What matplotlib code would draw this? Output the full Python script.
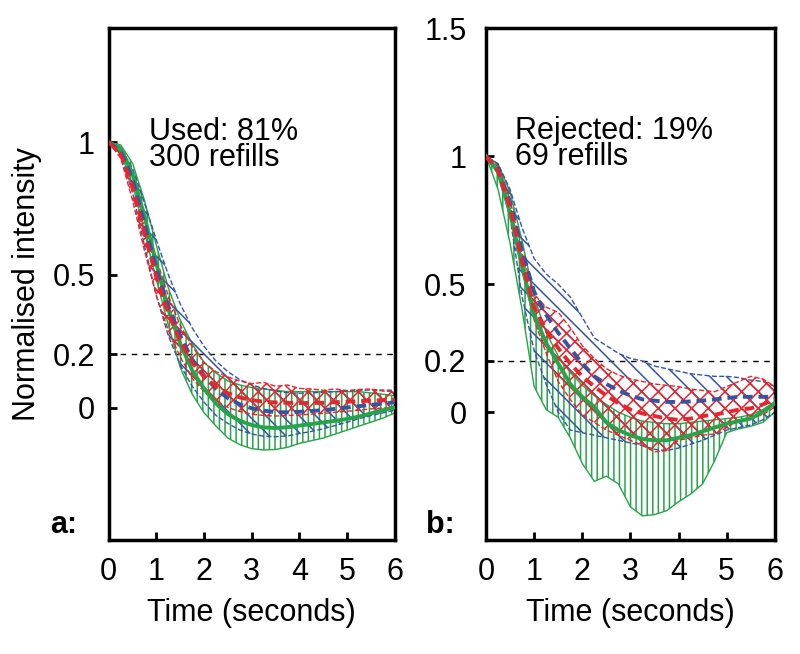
import matplotlib
matplotlib.use('Agg')
import matplotlib.pyplot as plt
import numpy as np

plt.rcParams['font.family'] = ['Liberation Sans', 'DejaVu Sans']
plt.rcParams['hatch.linewidth'] = 1.1

# time grid (seconds)
t = [0, 0.25, 0.5, 0.75, 1.0, 1.25, 1.5, 1.75, 2.0, 2.25, 2.5, 2.75, 3.0,
     3.25, 3.5, 3.75, 4.0, 4.25, 4.5, 4.75, 5.0, 5.25, 5.5, 5.75, 6.0]

# panel a: used refills
a_green_hi = [1.0, 0.99, 0.92, 0.78, 0.61, 0.45, 0.33, 0.24, 0.17, 0.13, 0.10, 0.085, 0.075,
              0.07, 0.065, 0.06, 0.06, 0.06, 0.06, 0.06, 0.06, 0.06, 0.055, 0.05, 0.045]
a_green_lo = [1.0, 0.96, 0.84, 0.66, 0.48, 0.31, 0.15, 0.05, -0.02, -0.07, -0.115, -0.14, -0.155,
              -0.16, -0.158, -0.15, -0.135, -0.125, -0.115, -0.10, -0.085, -0.07, -0.055, -0.04, -0.02]
a_green_mid = [1.0, 0.975, 0.88, 0.72, 0.54, 0.37, 0.24, 0.14, 0.07, 0.015, -0.025, -0.05, -0.066,
               -0.075, -0.077, -0.074, -0.068, -0.062, -0.056, -0.05, -0.043, -0.034, -0.022, -0.01, 0.0]
a_blue_hi = [1.0, 0.98, 0.90, 0.77, 0.63, 0.50, 0.39, 0.30, 0.23, 0.175, 0.135, 0.105, 0.085,
             0.072, 0.062, 0.056, 0.054, 0.055, 0.058, 0.06, 0.062, 0.065, 0.066, 0.066, 0.065]
a_blue_lo = [1.0, 0.95, 0.81, 0.61, 0.42, 0.27, 0.16, 0.08, 0.02, -0.03, -0.06, -0.085, -0.10,
             -0.108, -0.11, -0.107, -0.098, -0.09, -0.08, -0.068, -0.055, -0.042, -0.03, -0.02, -0.01]
a_blue_mid = [1.0, 0.965, 0.86, 0.69, 0.52, 0.38, 0.27, 0.18, 0.12, 0.07, 0.035, 0.012, -0.003,
              -0.012, -0.017, -0.018, -0.016, -0.013, -0.01, -0.005, 0.0, 0.005, 0.01, 0.015, 0.02]
a_red_hi = [1.0, 0.97, 0.88, 0.72, 0.56, 0.42, 0.31, 0.23, 0.17, 0.135, 0.115, 0.10, 0.09,
            0.095, 0.08, 0.085, 0.072, 0.07, 0.065, 0.07, 0.064, 0.068, 0.07, 0.062, 0.06]
a_red_lo = [1.0, 0.94, 0.78, 0.59, 0.42, 0.29, 0.19, 0.11, 0.06, 0.025, 0.0, -0.015, -0.025,
            -0.03, -0.032, -0.03, -0.028, -0.025, -0.022, -0.018, -0.014, -0.01, -0.005, -0.002, 0.0]
a_red_mid = [1.0, 0.955, 0.83, 0.655, 0.49, 0.355, 0.25, 0.17, 0.115, 0.078, 0.054, 0.038, 0.028,
             0.022, 0.019, 0.018, 0.017, 0.017, 0.018, 0.02, 0.022, 0.024, 0.026, 0.028, 0.03]

# panel b: rejected refills
b_green_hi = [1.0, 0.97, 0.86, 0.67, 0.45, 0.31, 0.22, 0.155, 0.105, 0.065, 0.03, 0.0, -0.02,
              -0.035, -0.04, -0.045, -0.045, -0.04, -0.035, -0.03, -0.025, -0.02, -0.01, 0.01, 0.04]
b_green_lo = [1.0, 0.87, 0.66, 0.40, 0.10, 0.01, -0.02, -0.10, -0.20, -0.27, -0.25, -0.28, -0.37,
              -0.405, -0.40, -0.385, -0.35, -0.32, -0.28, -0.19, -0.08, -0.065, -0.055, -0.04, 0.0]
b_green_mid = [1.0, 0.94, 0.78, 0.57, 0.38, 0.27, 0.19, 0.11, 0.06, 0.02, -0.04, -0.07, -0.09,
               -0.105, -0.11, -0.11, -0.10, -0.09, -0.075, -0.06, -0.045, -0.035, -0.025, 0.0, 0.035]
b_blue_hi = [1.0, 0.97, 0.87, 0.72, 0.60, 0.54, 0.50, 0.45, 0.37, 0.29, 0.26, 0.23, 0.21,
             0.20, 0.18, 0.17, 0.16, 0.15, 0.145, 0.14, 0.14, 0.135, 0.125, 0.12, 0.10]
b_blue_lo = [1.0, 0.93, 0.76, 0.45, 0.24, 0.11, 0.0, -0.07, -0.08, -0.09, -0.10, -0.11, -0.12,
             -0.13, -0.145, -0.15, -0.14, -0.125, -0.11, -0.09, -0.07, -0.06, -0.05, -0.03, 0.0]
b_blue_mid = [1.0, 0.95, 0.82, 0.63, 0.47, 0.38, 0.31, 0.25, 0.19, 0.14, 0.11, 0.085, 0.065,
              0.05, 0.045, 0.04, 0.04, 0.042, 0.045, 0.05, 0.055, 0.06, 0.06, 0.06, 0.06]
b_red_hi = [1.0, 0.96, 0.83, 0.62, 0.46, 0.41, 0.39, 0.33, 0.26, 0.21, 0.17, 0.145, 0.13,
            0.12, 0.11, 0.105, 0.10, 0.09, 0.085, 0.08, 0.10, 0.12, 0.14, 0.13, 0.10]
b_red_lo = [1.0, 0.93, 0.77, 0.55, 0.36, 0.23, 0.12, 0.05, -0.01, -0.04, -0.07, -0.09, -0.11,
            -0.13, -0.155, -0.15, -0.11, -0.10, -0.09, -0.085, -0.06, -0.03, -0.02, -0.01, 0.02]
b_red_mid = [1.0, 0.945, 0.80, 0.59, 0.41, 0.32, 0.25, 0.19, 0.14, 0.10, 0.065, 0.035, 0.01,
             -0.005, -0.015, -0.025, -0.03, -0.025, -0.015, -0.01, 0.0, 0.01, 0.015, 0.03, 0.05]

green = '#27a34a'
blue = '#3654a6'
red = '#e6262c'
fs = 22

fig = plt.figure(figsize=(8, 6.54), dpi=100)
ax_a = fig.add_axes([0.136, 0.174, 0.3575, 0.783])
ax_b = fig.add_axes([0.6075, 0.174, 0.361, 0.783])


def draw_panel(ax, bands, means, ylim, yticks, note, tag, ypad):
    for (lo, hi), col, hatch, ls in zip(bands, [green, blue, red], ['|||', '\\\\', 'xx'], ['-', '--', '--']):
        ax.fill_between(t, lo, hi, facecolor='none', edgecolor=col, hatch=hatch,
                        linewidth=1.0, linestyle=ls, zorder=2)
    ax.plot(t, means[0], color=green, lw=2.8, zorder=4)
    ax.plot(t, means[1], color=blue, lw=2.8, dashes=(2.5, 1.5), zorder=5)
    ax.plot(t, means[2], color=red, lw=2.8, dashes=(2.5, 1.5), zorder=6)
    ax.axhline(0.2, color='black', lw=1.0, dashes=(4, 4), zorder=1)

    ax.set_xlim(0, 6)
    ax.set_ylim(*ylim)
    ax.set_xticks([0, 1, 2, 3, 4, 5, 6])
    ax.set_yticks(yticks)
    ax.set_yticklabels([f'{v:g}' for v in yticks])
    ax.tick_params(direction='in', length=6, width=2, labelsize=fs,
                   top=False, right=False)
    ax.tick_params(axis='y', pad=ypad)
    ax.tick_params(axis='x', pad=12)
    for sp in ax.spines.values():
        sp.set_linewidth(2.5)
    ax.set_xlabel('Time (seconds)', fontsize=fs, labelpad=8)
    ax.text(note[0], note[1], note[2], fontsize=fs, va='center', ha='left',
            linespacing=0.85)
    ax.text(-0.11, 0.0, tag, transform=ax.transAxes, fontsize=fs,
            fontweight='bold', ha='right', va='bottom')


draw_panel(ax_a,
           [(a_green_lo, a_green_hi), (a_blue_lo, a_blue_hi), (a_red_lo, a_red_hi)],
           [a_green_mid, a_blue_mid, a_red_mid],
           (-0.5, 1.43), [0, 0.2, 0.5, 1],
           (0.85, 0.99, 'Used: 81%\n300 refills'), 'a:', 10)
draw_panel(ax_b,
           [(b_green_lo, b_green_hi), (b_blue_lo, b_blue_hi), (b_red_lo, b_red_hi)],
           [b_green_mid, b_blue_mid, b_red_mid],
           (-0.5, 1.5), [0, 0.2, 0.5, 1, 1.5],
           (0.6, 1.047, 'Rejected: 19%\n69 refills'), 'b:', 14)

ax_a.set_ylabel('Normalised intensity', fontsize=fs)
ax_a.yaxis.set_label_coords(-0.234, 0.5)

fig.savefig('out.png', dpi=100)
